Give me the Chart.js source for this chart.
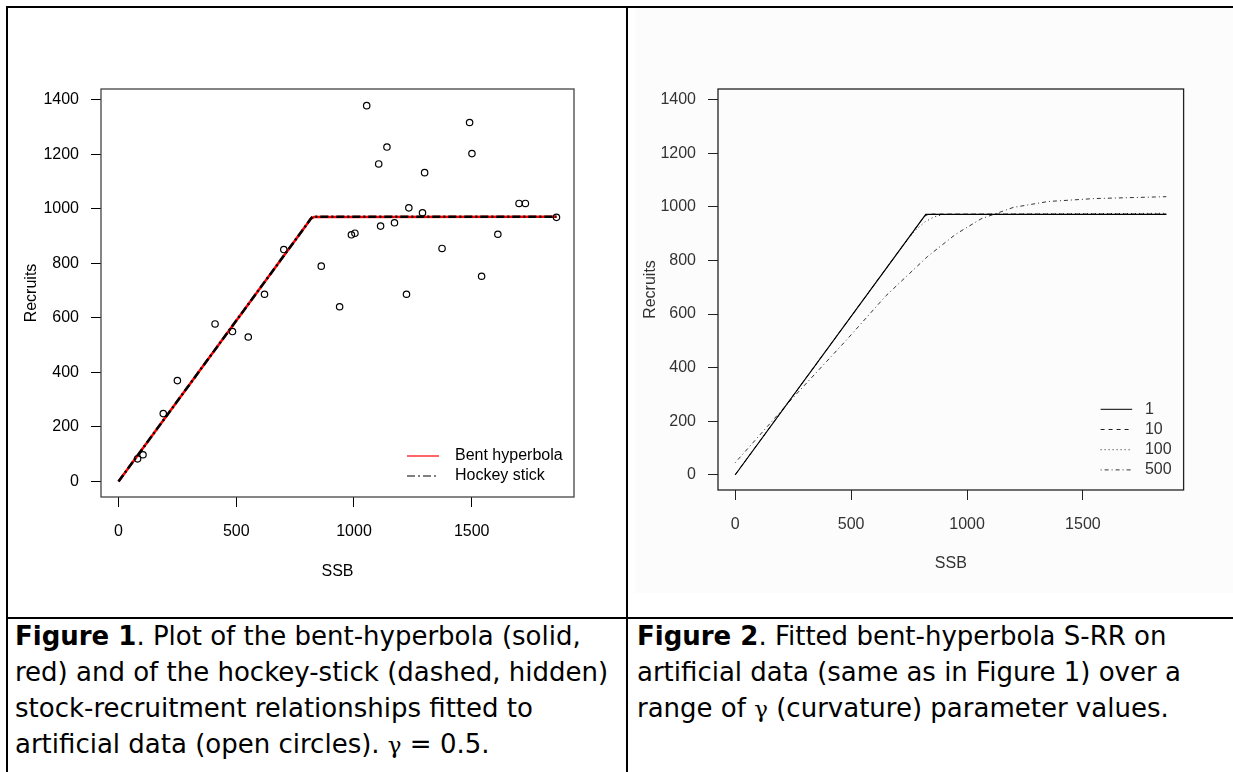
<!DOCTYPE html>
<html>
<head>
<meta charset="utf-8">
<script src="https://cdn.jsdelivr.net/npm/chart.js@4.4.1/dist/chart.umd.min.js"></script>
<style>
  body { margin: 0; width: 1233px; height: 772px; background: #fff; overflow: hidden; position: relative;
         font-family: "DejaVu Sans", sans-serif; }
  .rule { position: absolute; background: #000; }
  #c1 { position: absolute; left: 8px; top: 8px; }
  #c2 { position: absolute; left: 635px; top: 8px; background: #fcfcfc; }
  .cap { position: absolute; top: 618px; font-size: 26px; line-height: 36px; color: #000; white-space: nowrap; }
  .g { font-family: "DejaVu Serif", serif; font-size: 23px; }
</style>
</head>
<body>
<div class="rule" style="left:6px;top:6px;width:1227px;height:2px"></div>
<div class="rule" style="left:6px;top:6px;width:2px;height:766px"></div>
<div class="rule" style="left:626px;top:6px;width:2px;height:766px"></div>
<div class="rule" style="left:6px;top:617px;width:1227px;height:2px"></div>

<canvas id="c1" width="618" height="608"></canvas>
<canvas id="c2" width="598" height="585"></canvas>

<div class="cap" style="left:15px">
  <b>Figure 1</b>. Plot of the bent-hyperbola (solid,<br>
  red) and of the hockey-stick (dashed, hidden)<br>
  stock-recruitment relationships fitted to<br>
  artificial data (open circles). <span class="g">γ</span> = 0.5.
</div>
<div class="cap" style="left:637px">
  <b>Figure 2</b>. Fitted bent-hyperbola S-RR on<br>
  artificial data (same as in Figure 1) over a<br>
  range of <span class="g">γ</span> (curvature) parameter values.
</div>

<script>
// observed stock / recruitment (open circles)
const ssb = [81, 104, 190, 250, 410, 484, 551, 620, 702, 861, 939, 989, 1004, 1054, 1105,
             1113, 1140, 1172, 1223, 1233, 1291, 1300, 1374, 1491, 1501, 1542, 1611, 1701, 1728, 1860];
const recruits = [83, 98, 249, 370, 578, 550, 530, 687, 851, 790, 641, 905, 911, 1379, 1165,
                  937, 1227, 949, 687, 1004, 986, 1133, 855, 1317, 1203, 753, 907, 1020, 1020, 969];

// figure 1 fitted curves
const hockeySSB = [0, 823, 1860];
const hockeyR = [0, 971, 971];
const bentSSB = [0, 800, 815, 830, 1860];
const bentR = [0, 944, 963, 970, 971];

// figure 2, bent hyperbola for several gamma
const g1SSB = [0, 822, 1860];
const g1R = [0, 972, 972];
const g10SSB = [0, 815, 835, 1860];
const g10R = [0, 964, 973, 973];
const g100SSB = [0, 740, 780, 820, 860, 900, 1860];
const g100R = [0, 875, 915, 945, 963, 972, 976];
const g500SSB = [0, 240, 480, 650, 830, 950, 1060, 1200, 1350, 1550, 1860];
const g500R = [45, 279, 503, 668, 815, 897, 955, 998, 1020, 1031, 1038];

const xTicks = [0, 500, 1000, 1500];
const yTicks = [0, 200, 400, 600, 800, 1000, 1200, 1400];
const xRange = [-74.4, 1934.4];
const yRange = [-57, 1440];

const pts = (xs, ys) => xs.map((x, i) => ({ x: x, y: ys[i] }));
const FONT = 'Liberation Sans, Arial, sans-serif';

const boxPlugin = {
    id: 'box',
    afterDraw(chart, args, opts) {
        const a = chart.chartArea, ctx = chart.ctx;
        ctx.save();
        ctx.strokeStyle = opts.color;
        ctx.lineWidth = opts.width;
        ctx.strokeRect(a.left, a.top, a.right - a.left, a.bottom - a.top);
        ctx.restore();
    }
};

// R style legend inside the plot, bottom right
const legendPlugin = {
    id: 'rlegend',
    afterDraw(chart, args, opts) {
        const a = chart.chartArea, ctx = chart.ctx;
        ctx.save();
        ctx.font = '16px ' + FONT;
        ctx.textBaseline = 'middle';
        ctx.fillStyle = opts.color;
        opts.items.forEach((idx, k) => {
            const ds = chart.data.datasets[idx];
            const x = a.right + opts.dx;
            const y = a.bottom + opts.dy + k * opts.rowH;
            ctx.beginPath();
            ctx.strokeStyle = ds.borderColor;
            ctx.lineWidth = opts.lineWidth;
            ctx.setLineDash(ds.borderDash || []);
            ctx.moveTo(x, y);
            ctx.lineTo(x + opts.len, y);
            ctx.stroke();
            ctx.setLineDash([]);
            ctx.fillText(ds.label, x + opts.textDx, y);
        });
        ctx.restore();
    }
};

function rScales(o) {
    const tickFont = { family: FONT, size: 16 };
    return {
        x: {
            type: 'linear', min: xRange[0], max: xRange[1],
            afterBuildTicks: s => { s.ticks = xTicks.map(v => ({ value: v })); },
            afterFit: s => { s.height = o.xh; },
            grid: { drawOnChartArea: false, drawTicks: true, tickLength: 10, color: o.axis },
            border: { display: false },
            ticks: { padding: 15, font: tickFont, color: o.text, maxRotation: 0, autoSkip: false, callback: v => String(v) },
            title: { display: true, text: 'SSB', font: tickFont, color: o.text, padding: { top: 0, bottom: o.xtPad } }
        },
        y: {
            type: 'linear', min: yRange[0], max: yRange[1],
            afterBuildTicks: s => { s.ticks = yTicks.map(v => ({ value: v })); },
            afterFit: s => { s.width = o.yw; },
            grid: { drawOnChartArea: false, drawTicks: true, tickLength: 10, color: o.axis },
            border: { display: false },
            ticks: { padding: 12, font: tickFont, color: o.text, autoSkip: false, callback: v => String(v) },
            title: { display: true, text: 'Recruits', font: tickFont, color: o.text, padding: { top: o.ytPad, bottom: 0 } }
        }
    };
}

new Chart(document.getElementById('c1'), {
    type: 'scatter',
    data: {
        datasets: [{
            label: 'Data',
            data: pts(ssb, recruits),
            pointRadius: 3.2,
            pointBorderWidth: 1.2,
            pointBorderColor: '#000',
            pointBackgroundColor: 'rgba(0,0,0,0)'
        }, {
            label: 'Hockey stick',
            data: pts(hockeySSB, hockeyR),
            showLine: true, pointRadius: 0,
            borderColor: '#000', borderWidth: 2.5,
            borderDash: [8, 3, 2, 3]
        }, {
            label: 'Bent hyperbola',
            data: pts(bentSSB, bentR),
            showLine: true, pointRadius: 0,
            borderColor: '#ff0000', borderWidth: 2.5
        }]
    },
    options: {
        responsive: false,
        animation: false,
        devicePixelRatio: 1,
        layout: { padding: { left: 0, top: 81, right: 52, bottom: 0 } },
        scales: rScales({ xh: 119, yw: 93, xtPad: 34.7, ytPad: 14, axis: '#000', text: '#000' }),
        plugins: {
            legend: { display: false },
            tooltip: { enabled: false },
            box: { color: '#444', width: 1.3 },
            rlegend: { items: [2, 1], dx: -167, dy: -41, rowH: 20, len: 32, textDx: 48, lineWidth: 1.2, color: '#000' }
        }
    },
    plugins: [boxPlugin, legendPlugin]
});

new Chart(document.getElementById('c2'), {
    type: 'scatter',
    data: {
        datasets: [{
            label: '1',
            data: pts(g1SSB, g1R),
            showLine: true, pointRadius: 0,
            borderColor: '#000', borderWidth: 1.2
        }, {
            label: '10',
            data: pts(g10SSB, g10R),
            showLine: true, pointRadius: 0,
            borderColor: '#222', borderWidth: 1, borderDash: [4, 4]
        }, {
            label: '100',
            data: pts(g100SSB, g100R),
            showLine: true, pointRadius: 0,
            borderColor: '#222', borderWidth: 1, borderDash: [1, 3]
        }, {
            label: '500',
            data: pts(g500SSB, g500R),
            showLine: true, pointRadius: 0,
            borderColor: '#333', borderWidth: 1, borderDash: [1, 3, 4, 3]
        }]
    },
    options: {
        responsive: false,
        animation: false,
        devicePixelRatio: 1,
        layout: { padding: { left: 0, top: 81, right: 49.4, bottom: 0 } },
        scales: rScales({ xh: 103, yw: 83, xtPad: 20, ytPad: 6, axis: '#222', text: '#333' }),
        plugins: {
            legend: { display: false },
            tooltip: { enabled: false },
            box: { color: '#222', width: 1.3 },
            rlegend: { items: [0, 1, 2, 3], dx: -83, dy: -80.7, rowH: 20.2, len: 31.6, textDx: 44.3, lineWidth: 1, color: '#333' }
        }
    },
    plugins: [boxPlugin, legendPlugin]
});
</script>
</body>
</html>
